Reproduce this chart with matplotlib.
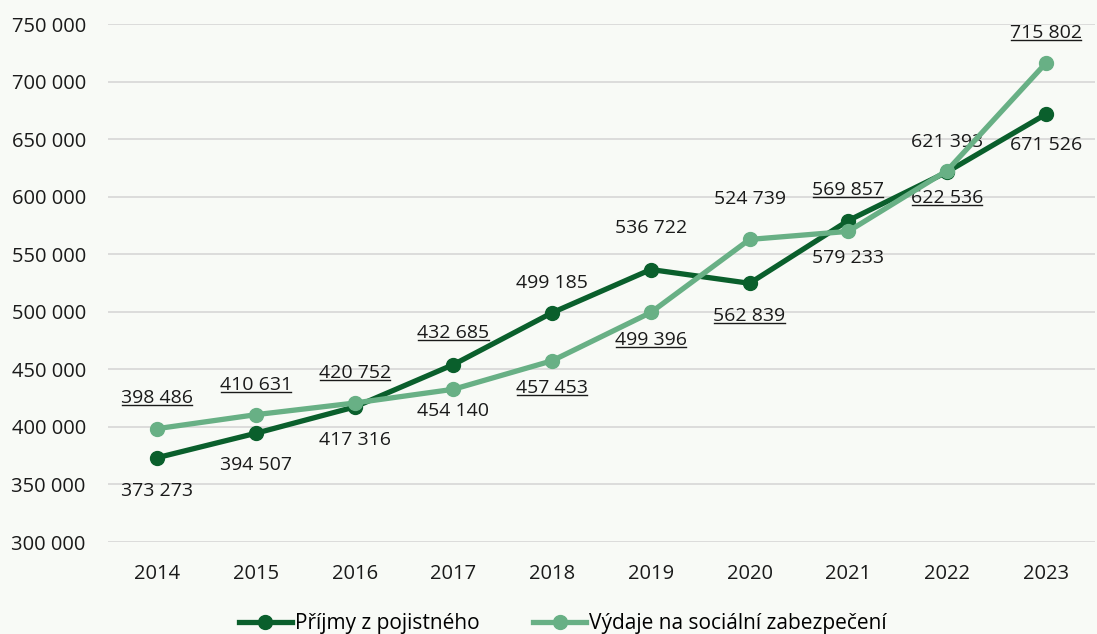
import matplotlib
matplotlib.use("Agg")
import matplotlib.pyplot as plt
from matplotlib.lines import Line2D

years = ["2014", "2015", "2016", "2017", "2018", "2019", "2020", "2021", "2022", "2023"]
prijmy = [373273, 394507, 417316, 454140, 499185, 536722, 524739, 579233, 621393, 671526]
vydaje = [398486, 410631, 420752, 432685, 457453, 499396, 562839, 569857, 622536, 715802]
# where the label of the "Výdaje" series sits: above the upper point or below the lower one
vydaje_label_up = [True, True, True, True, False, False, False, True, False, True]

# label distance from the point, in pixels (style only)
up_off = [31, 30, 30, 32, 30, 42, 40, 31, 29, 30]
down_off = [33, 32, 33, 22, 27, 28, 33, 27, 26, 31]

DARK = "#0a5f2c"
LIGHT = "#68b085"
BG = "#f8faf6"
TXT = "#1a1a1a"

plt.rcParams["font.family"] = ["Open Sans", "DejaVu Sans"]

fig = plt.figure(figsize=(10.97, 6.34), dpi=100, facecolor=BG)
ax = fig.add_axes([108 / 1097, 1 - 542 / 634, (1095 - 108) / 1097, (542 - 24) / 634])
ax.set_facecolor(BG)

x = list(range(len(years)))
ax.plot(x, prijmy, color=DARK, lw=3.8, marker="o", ms=10, label="Příjmy z pojistného", zorder=3)
ax.plot(x, vydaje, color=LIGHT, lw=3.8, marker="o", ms=10, label="Výdaje na sociální zabezpečení", zorder=4)

def fmt(v):
    return f"{v:,}".replace(",", " ")

ax.set_xlim(-0.5, len(years) - 0.5)
ax.set_ylim(300000, 750000)
yt = list(range(300000, 750001, 50000))
ax.set_yticks(yt)
ax.set_yticklabels([fmt(v) for v in yt])
ax.set_xticks(x)
ax.set_xticklabels(years)
ax.tick_params(axis="both", length=0, labelsize=14.5, colors=TXT, pad=16)
ax.grid(axis="y", color="#d9d9d9", lw=1.3)
ax.set_axisbelow(True)
for s in ax.spines.values():
    s.set_visible(False)

underlined = []
for i in range(len(years)):
    top = max(prijmy[i], vydaje[i])
    bot = min(prijmy[i], vydaje[i])
    if vydaje_label_up[i]:
        up_txt, down_txt = vydaje[i], prijmy[i]
    else:
        up_txt, down_txt = prijmy[i], vydaje[i]
    t1 = ax.annotate(fmt(up_txt), (i, top), xytext=(0, up_off[i]), textcoords="offset pixels",
                     ha="center", va="center", fontsize=14, color=TXT)
    t2 = ax.annotate(fmt(down_txt), (i, bot), xytext=(0, -down_off[i]), textcoords="offset pixels",
                     ha="center", va="center", fontsize=14, color=TXT)
    underlined.append(t1 if vydaje_label_up[i] else t2)

fig.legend(loc="center", bbox_to_anchor=(0.513, 0.016), ncol=2, frameon=False,
           fontsize=15, handlelength=2.55, handletextpad=0.12, columnspacing=2.6)

# underline the labels of the "Výdaje" series
fig.canvas.draw()
r = fig.canvas.get_renderer()
W, H = fig.bbox.width, fig.bbox.height
for t in underlined:
    bb = t.get_window_extent(r)
    y = (bb.y0 + 2) / H
    fig.add_artist(Line2D([(bb.x0 + 1) / W, (bb.x1 - 1) / W], [y, y], color=TXT, lw=1.0))

fig.savefig("out.png", dpi=100, facecolor=BG)
